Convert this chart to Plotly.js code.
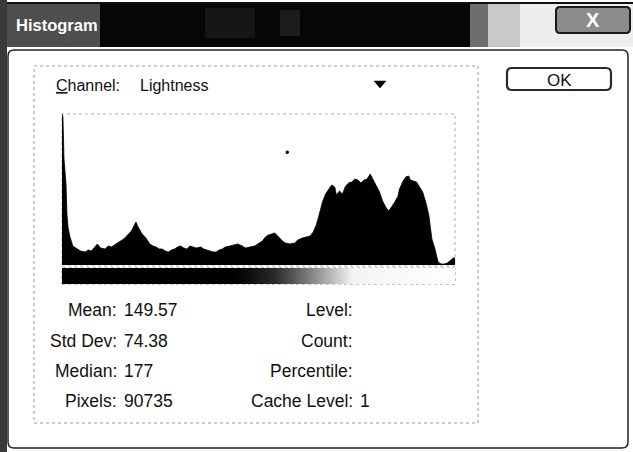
<!DOCTYPE html>
<html>
<head>
<meta charset="utf-8">
<script src="https://cdn.plot.ly/plotly-3.0.1.min.js"></script>
<style>html,body{margin:0;padding:0;background:#fff;}#chart{width:633px;height:452px;}</style>
</head>
<body>
<div id="chart"></div>
<script>
// Histogram data (Lightness channel)
var levels = [0,0.6,1.3,1.9,2.6,3.2,3.9,5,7,9,10,12,15,17,19,21,23,25,28,30,32,35,38,40,42,44,45,47,48,49,51,52,54,56,57,59,61,63,65,67,69,71,73,75,77,79,81,83,85,87,90,92,94,96,98,100,102,104,106,109,112,114,117,119,122,125,128,130,132,134,136,138,140,141,143,145,148,151,153,156,158,161,163,165,167,169,171,173,175,177,178,180,182,184,186,188,190,192,194,196,198,200,202,204,206,208,210,212,214,216,218,219,221,223,225,226,228,230,232,234,236,238,239,240,242,243,244,246,248,250,252,254,255];
var counts = [151,148,106,94,81,51,38,29,19,17,16,14,13,15,14,17,21,17,16,19,18,21,24,26,29,32,34,40,43,39,34,31,28,24,21,19,18,16,16,14,13,15,16,18,19,17,16,19,18,17,18,16,15,14,13,13,15,16,18,19,20,21,19,17,18,19,22,24,28,30,31,32,29,27,24,22,21,22,25,27,28,29,33,40,51,63,71,76,80,78,70,74,71,79,82,83,86,85,82,85,86,91,85,80,73,64,58,54,58,63,69,76,83,88,89,85,84,83,78,73,63,50,38,26,16,8,3,1,1,2,5,7,7];
// Grey ramp shown under the histogram
var rampLevels = [0,51,102,153,204,255];
// Statistics text
var statLabels = ["Mean:", "Std Dev:", "Median:", "Pixels:"];
var statValues = ["149.57", "74.38", "177", "90735"];
var infoLabels = ["Level:", "Count:", "Percentile:", "Cache Level:"];
var infoValues = ["", "", "", "1"];
var channelName = "Lightness";

var W = 633, H = 452;
function px(x){ return x / W; }
function py(y){ return 1 - y / H; }
var FONT = "Liberation Sans, Arial, sans-serif";

var traces = [
  {
    type: "scatter", mode: "lines", x: levels, y: counts,
    fill: "tozeroy", fillcolor: "#000", line: {color: "#000", width: 0.8},
    xaxis: "x", yaxis: "y", hoverinfo: "skip", showlegend: false
  },
  {
    type: "heatmap", x: rampLevels, y: [0.5], z: [rampLevels], zsmooth: "best",
    zmin: 0, zmax: 255, showscale: false, hoverinfo: "skip",
    colorscale: [[0,"#000"],[0.44,"#000"],[0.54,"#2a2a2a"],[0.64,"#8a8a8a"],[0.74,"#f4f4f4"],[1,"#fff"]],
    xaxis: "x", yaxis: "y2"
  }
];

var shapes = [];
function rect(x0,y0,x1,y1,fill,line,lw,dash){
  shapes.push({type:"rect", xref:"paper", yref:"paper", x0:px(x0), x1:px(x1), y0:py(y1), y1:py(y0),
    fillcolor: fill || "rgba(0,0,0,0)", line:{color: line || "rgba(0,0,0,0)", width: lw||0, dash: dash||"solid"}, layer:"below"});
}
function rrect(x0,y0,x1,y1,r,fill,line,lw){
  var p = "M"+px(x0+r)+","+py(y0)+" L"+px(x1-r)+","+py(y0)+" Q"+px(x1)+","+py(y0)+" "+px(x1)+","+py(y0+r)+
    " L"+px(x1)+","+py(y1-r)+" Q"+px(x1)+","+py(y1)+" "+px(x1-r)+","+py(y1)+
    " L"+px(x0+r)+","+py(y1)+" Q"+px(x0)+","+py(y1)+" "+px(x0)+","+py(y1-r)+
    " L"+px(x0)+","+py(y0+r)+" Q"+px(x0)+","+py(y0)+" "+px(x0+r)+","+py(y0)+" Z";
  shapes.push({type:"path", xref:"paper", yref:"paper", path:p, fillcolor:fill, line:{color:line, width:lw}});
}

// Title bar (scanned, dark)
rect(0,3,100,47,"#4e4e4e");
rect(100,3,470,47,"#060606");
rect(205,8,255,38,"#161616");
rect(280,10,300,36,"#1c1c1c");
rect(470,3,488,47,"#6e6e6e");
rect(488,3,520,47,"#c9c9c9");
rect(520,3,633,47,"#eeeeee");
rect(0,2,633,4,"#111");
// Left scan edge
rect(0,0,7,452,"#3a3a3a");
// Dialog frame
rrect(8,50,628,448,6,"rgba(0,0,0,0)","#222",1.5);
// Close button
rrect(556,7,630,33,4,"#8c8c8c","#1a1a1a",2);
// Group box (dotted)
rect(34,66,478,423,null,"#9a9a9a",1,"dot");
// Histogram frame (dotted)
rect(62,114,455,266,null,"#b0b0b0",1,"dot");
// Ramp outline
rect(62,268,455,284,null,"#777",0.8,"dot");
// OK button
rrect(507,68,611,90,5,"#ffffff","#2a2a2a",2.2);
// Dropdown arrow
shapes.push({type:"path", xref:"paper", yref:"paper",
  path:"M"+px(374)+","+py(81)+" L"+px(386)+","+py(81)+" L"+px(380)+","+py(88)+" Z",
  fillcolor:"#000", line:{color:"#000", width:0.5}});
// Scan specks
shapes.push({type:"circle", xref:"paper", yref:"paper", x0:px(285.5), x1:px(289), y0:py(154), y1:py(150.5), fillcolor:"#000", line:{width:0}});

var ann = [];
function txt(x,y,t,size,anchor,color,bold){
  ann.push({xref:"paper", yref:"paper", x:px(x), y:py(y), text: bold ? "<b>"+t+"</b>" : t,
    showarrow:false, xanchor:anchor, yanchor:"middle",
    font:{family:FONT, size:size, color:color||"#111"}});
}
txt(14,25,"Histogram",16.5,"left","#fff",true);
txt(593,20,"X",20,"center","#fff",true);
txt(559,80,"OK",17,"center","#111");
txt(54,85,"<u>C</u>hannel:",16,"left");
txt(138,85,channelName,16,"left");
var rowsY = [310, 341, 371, 401];
for (var i = 0; i < statLabels.length; i++) {
  txt(119, rowsY[i], statLabels[i], 17.5, "right");
  txt(122, rowsY[i], statValues[i], 17.5, "left");
  txt(355, rowsY[i], infoLabels[i], 17.5, "right");
  if (infoValues[i]) txt(358, rowsY[i], infoValues[i], 17.5, "left");
}

var layout = {
  width: W, height: H,
  margin: {l:0, r:0, t:0, b:0, pad:0},
  paper_bgcolor: "#fff", plot_bgcolor: "rgba(0,0,0,0)",
  showlegend: false,
  xaxis: {domain:[px(62), px(455)], range:[0,255], visible:false, fixedrange:true},
  yaxis: {domain:[py(265), py(114)], range:[0,151], visible:false, fixedrange:true},
  yaxis2: {domain:[py(284), py(268)], range:[0,1], visible:false, fixedrange:true, anchor:"x"},
  shapes: shapes,
  annotations: ann
};
Plotly.newPlot("chart", traces, layout, {staticPlot:true, displayModeBar:false});
</script>
</body>
</html>
